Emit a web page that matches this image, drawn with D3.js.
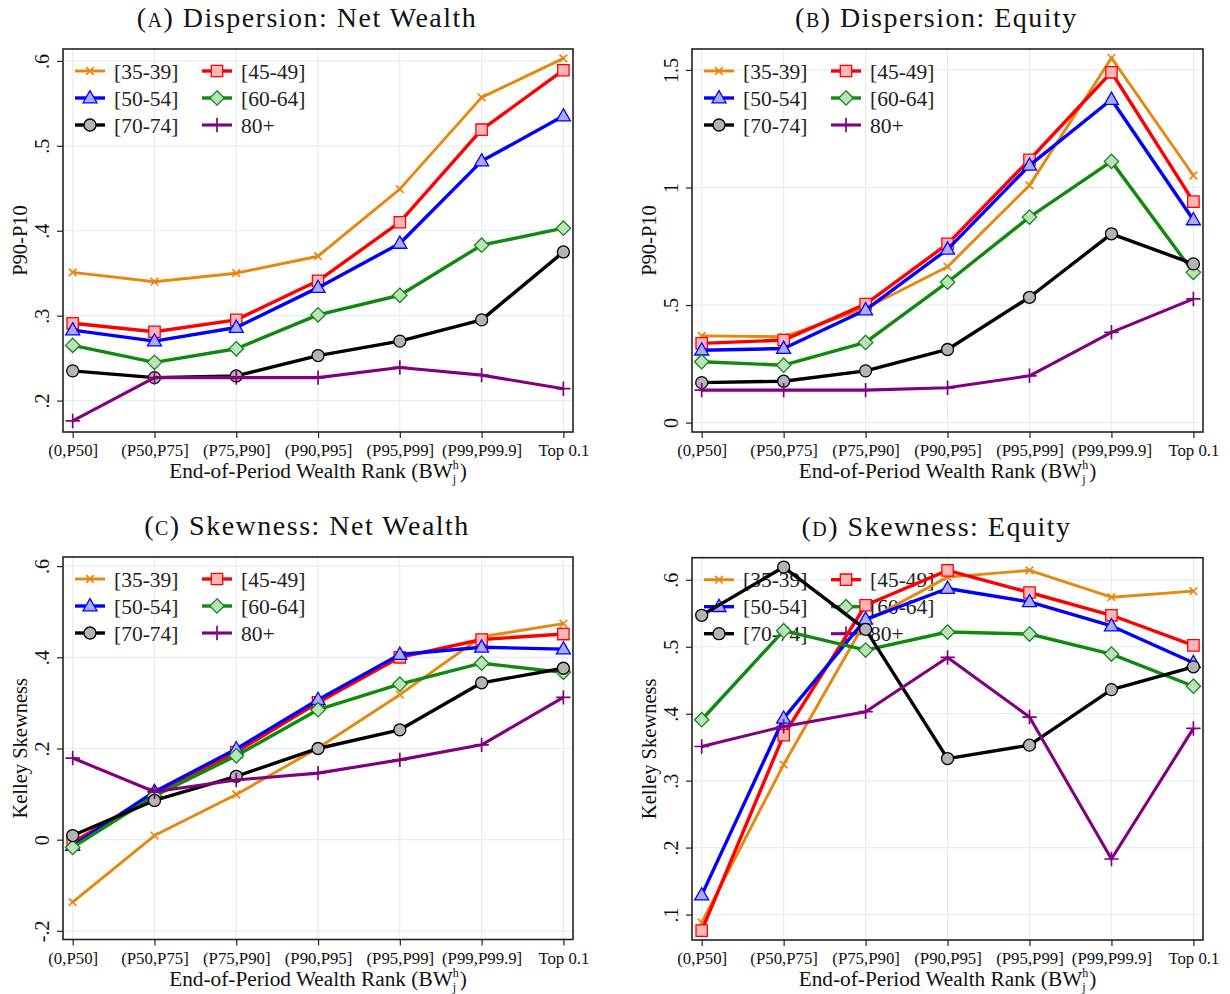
<!DOCTYPE html>
<html>
<head>
<meta charset="utf-8">
<script src="https://cdn.jsdelivr.net/npm/d3@7"></script>
<style>
  html, body { margin: 0; padding: 0; background: #fff; }
  svg { display: block; font-family: "Liberation Serif", "Times New Roman", serif; }
</style>
</head>
<body>
<svg id="chart" width="1230" height="994"></svg>
<script>
// Wealth-rank buckets on the x axis
const categories = ["(0,P50]", "(P50,P75]", "(P75,P90]", "(P90,P95]", "(P95,P99]", "(P99,P99.9]", "Top 0.1"];

// Age groups (series order = drawing order)
const ageGroups = ["[35-39]", "[45-49]", "[50-54]", "[60-64]", "[70-74]", "80+"];

// (A) P90-P10 dispersion of net wealth growth, one row per age group
const dispersionNetWealth = [
  [0.351, 0.340, 0.350, 0.370, 0.449, 0.557, 0.603],
  [0.291, 0.281, 0.295, 0.341, 0.410, 0.519, 0.589],
  [0.283, 0.270, 0.286, 0.333, 0.385, 0.482, 0.535],
  [0.265, 0.245, 0.261, 0.301, 0.324, 0.383, 0.403],
  [0.235, 0.227, 0.229, 0.253, 0.270, 0.295, 0.375],
  [0.176, 0.227, 0.227, 0.227, 0.239, 0.230, 0.214]
];

// (B) P90-P10 dispersion of equity growth
const dispersionEquity = [
  [0.369, 0.365, 0.486, 0.663, 1.009, 1.551, 1.051],
  [0.337, 0.351, 0.504, 0.760, 1.118, 1.490, 0.940],
  [0.308, 0.315, 0.479, 0.737, 1.094, 1.374, 0.862],
  [0.259, 0.244, 0.341, 0.597, 0.874, 1.111, 0.639],
  [0.170, 0.176, 0.220, 0.311, 0.533, 0.803, 0.675],
  [0.138, 0.138, 0.138, 0.148, 0.199, 0.384, 0.526]
];

// (C) Kelley skewness of net wealth growth
const skewnessNetWealth = [
  [-0.137, 0.009, 0.099, 0.201, 0.318, 0.445, 0.474],
  [-0.006, 0.100, 0.192, 0.301, 0.400, 0.439, 0.451],
  [-0.013, 0.105, 0.199, 0.307, 0.406, 0.422, 0.418],
  [-0.017, 0.096, 0.184, 0.285, 0.341, 0.387, 0.367],
  [0.009, 0.086, 0.139, 0.200, 0.241, 0.344, 0.376],
  [0.179, 0.105, 0.131, 0.146, 0.175, 0.208, 0.312]
];

// (D) Kelley skewness of equity growth
const skewnessEquity = [
  [0.088, 0.324, 0.538, 0.604, 0.614, 0.574, 0.583],
  [0.076, 0.368, 0.562, 0.614, 0.581, 0.547, 0.502],
  [0.129, 0.393, 0.541, 0.587, 0.567, 0.531, 0.476],
  [0.391, 0.524, 0.495, 0.522, 0.519, 0.489, 0.441],
  [0.547, 0.619, 0.526, 0.333, 0.353, 0.436, 0.470],
  [0.351, 0.381, 0.403, 0.484, 0.395, 0.183, 0.378]
];

// Y-axis tick values and their printed labels
const ticksA = [0.2, 0.3, 0.4, 0.5, 0.6];
const tickLabelsA = [".2", ".3", ".4", ".5", ".6"];
const ticksB = [0, 0.5, 1, 1.5];
const tickLabelsB = ["0", ".5", "1", "1.5"];
const ticksC = [-0.2, 0, 0.2, 0.4, 0.6];
const tickLabelsC = ["-.2", "0", ".2", ".4", ".6"];
const ticksD = [0.1, 0.2, 0.3, 0.4, 0.5, 0.6];
const tickLabelsD = [".1", ".2", ".3", ".4", ".5", ".6"];

// Series styling: line colour, marker shape and marker fill
const seriesStyle = [
  { color: "#e8870e", width: 2.9, marker: "x",        fill: "none" },
  { color: "#ff0000", width: 3.4, marker: "square",   fill: "#ffb6b6" },
  { color: "#0000ff", width: 3.4, marker: "triangle", fill: "#aaaaff" },
  { color: "#0f8a0f", width: 3.4, marker: "diamond",  fill: "#bfe0bf" },
  { color: "#000000", width: 3.4, marker: "circle",   fill: "#b4b4b4" },
  { color: "#800080", width: 3.1, marker: "plus",     fill: "none" }
];

const markerPath = {
  x: "M-3.8,-3.8L3.8,3.8M-3.8,3.8L3.8,-3.8",
  square: "M-5.7,-5.7H5.7V5.7H-5.7Z",
  triangle: "M0,-7.4L7,4.8H-7Z",
  diamond: "M0,-7.2L7.2,0L0,7.2L-7.2,0Z",
  circle: "M6,0A6,6 0 1,1 -6,0A6,6 0 1,1 6,0Z",
  plus: "M-7.2,0H7.2M0,-7.2V7.2"
};

const svg = d3.select("#chart");
const gridColor = "#e3eef0";

function drawMarker(g, x, y, style) {
  const stroked = style.marker === "x" || style.marker === "plus";
  g.append("path")
    .attr("d", markerPath[style.marker])
    .attr("transform", `translate(${x},${y})`)
    .attr("fill", stroked ? "none" : style.fill)
    .attr("stroke", style.color)
    .attr("stroke-width", stroked ? 1.7 : 1.3);
}

function drawPanel(p) {
  const g = svg.append("g");
  const { left, right, top, bottom } = p.frame;

  const x = d3.scalePoint().domain(categories).range([left + 9.7, right - 9.6]);
  const y = d3.scaleLinear().domain(p.yDomain).range([bottom, top]);

  // gridlines
  g.append("g").selectAll("line").data(p.ticks).join("line")
    .attr("x1", left).attr("x2", right)
    .attr("y1", d => y(d)).attr("y2", d => y(d))
    .attr("stroke", gridColor).attr("stroke-width", 1.2);
  g.append("g").selectAll("line").data(categories).join("line")
    .attr("x1", d => x(d)).attr("x2", d => x(d))
    .attr("y1", top).attr("y2", bottom)
    .attr("stroke", gridColor).attr("stroke-width", 1.2);

  // y axis ticks and rotated labels
  const yAxis = g.append("g").attr("transform", `translate(${left},0)`)
    .call(d3.axisLeft(y).tickValues(p.ticks).tickSize(6).tickFormat((d, i) => p.tickLabels[i]));
  yAxis.select(".domain").remove();
  yAxis.selectAll(".tick line").attr("stroke", "#222").attr("stroke-width", 1.2);
  yAxis.selectAll(".tick text")
    .attr("font-family", "Liberation Serif, serif")
    .attr("font-size", 20).attr("fill", "#111")
    .attr("x", null).attr("dy", null)
    .attr("text-anchor", "middle")
    .attr("transform", "translate(-20.5,0) rotate(-90)")
    .attr("dy", "0.34em");

  // x axis ticks and labels
  const xAxis = g.append("g").attr("transform", `translate(0,${bottom})`)
    .call(d3.axisBottom(x).tickSize(6).tickPadding(4));
  xAxis.select(".domain").remove();
  xAxis.selectAll(".tick line").attr("stroke", "#222").attr("stroke-width", 1.2);
  xAxis.selectAll(".tick text")
    .attr("font-family", "Liberation Serif, serif")
    .attr("font-size", 16.8).attr("fill", "#111")
    .attr("y", 24).attr("dy", null);

  // plot region frame
  g.append("rect")
    .attr("x", left).attr("y", top)
    .attr("width", right - left).attr("height", bottom - top)
    .attr("fill", "none").attr("stroke", "#222").attr("stroke-width", 1.6);

  // legend (drawn beneath the series)
  const leg = g.append("g");
  ageGroups.forEach((name, i) => {
    const col = i % 2, row = Math.floor(i / 2);
    const lx = left + 12 + col * 127;
    const ly = top + 22 + row * 27;
    const st = seriesStyle[i];
    leg.append("line")
      .attr("x1", lx).attr("x2", lx + 30).attr("y1", ly).attr("y2", ly)
      .attr("stroke", st.color).attr("stroke-width", st.width);
    drawMarker(leg, lx + 15, ly, st);
    leg.append("text")
      .attr("x", lx + 39).attr("y", ly + 7.5)
      .attr("font-size", 21.5).attr("fill", "#222")
      .text(name);
  });

  // series
  const line = d3.line().x((d, i) => x(categories[i])).y(d => y(d));
  p.values.forEach((vals, s) => {
    const st = seriesStyle[s];
    const sg = g.append("g");
    sg.append("path").attr("d", line(vals))
      .attr("fill", "none").attr("stroke", st.color)
      .attr("stroke-width", st.width).attr("stroke-linejoin", "round");
    vals.forEach((v, i) => drawMarker(sg, x(categories[i]), y(v), st));
  });

  // panel title
  const cx = (left + right) / 2;
  const title = g.append("text")
    .attr("x", cx - 11).attr("y", top - 22)
    .attr("text-anchor", "middle").attr("font-size", 28)
    .attr("letter-spacing", 1.5).attr("fill", "#111");
  title.append("tspan").text("(");
  title.append("tspan").attr("font-size", 20).text(p.letter);
  title.append("tspan").text(") " + p.title);

  // y axis title
  g.append("text")
    .attr("transform", `translate(${left - 43},${(top + bottom) / 2}) rotate(-90)`)
    .attr("text-anchor", "middle").attr("dy", "0.34em")
    .attr("font-size", 20.5).attr("fill", "#111")
    .text(p.yTitle);

  // x axis title with stacked sub/superscript
  const xt = g.append("text")
    .attr("x", 0).attr("y", bottom + 46)
    .attr("font-size", 21.3).attr("fill", "#111");
  xt.append("tspan").text("End-of-Period Wealth Rank (BW");
  xt.append("tspan").attr("font-size", 12).attr("dy", 5).text("j");
  xt.append("tspan").attr("font-size", 12).attr("dx", -3.4).attr("dy", -14).text("h");
  xt.append("tspan").attr("dy", 9).attr("dx", 1).text(")");
  const w = xt.node().getBBox().width;
  xt.attr("x", cx - w / 2);
}

drawPanel({
  letter: "A", title: "Dispersion: Net Wealth", yTitle: "P90-P10",
  frame: { left: 63, right: 573, top: 49, bottom: 432 },
  yDomain: [0.163, 0.614], ticks: ticksA, tickLabels: tickLabelsA,
  values: dispersionNetWealth
});
drawPanel({
  letter: "B", title: "Dispersion: Equity", yTitle: "P90-P10",
  frame: { left: 692, right: 1203, top: 49, bottom: 432 },
  yDomain: [-0.040, 1.589], ticks: ticksB, tickLabels: tickLabelsB,
  values: dispersionEquity
});
drawPanel({
  letter: "C", title: "Skewness: Net Wealth", yTitle: "Kelley Skewness",
  frame: { left: 63, right: 573, top: 557, bottom: 939.5 },
  yDomain: [-0.219, 0.620], ticks: ticksC, tickLabels: tickLabelsC,
  values: skewnessNetWealth
});
drawPanel({
  letter: "D", title: "Skewness: Equity", yTitle: "Kelley Skewness",
  frame: { left: 692, right: 1203, top: 557.7, bottom: 940 },
  yDomain: [0.062, 0.633], ticks: ticksD, tickLabels: tickLabelsD,
  values: skewnessEquity
});
</script>
</body>
</html>
